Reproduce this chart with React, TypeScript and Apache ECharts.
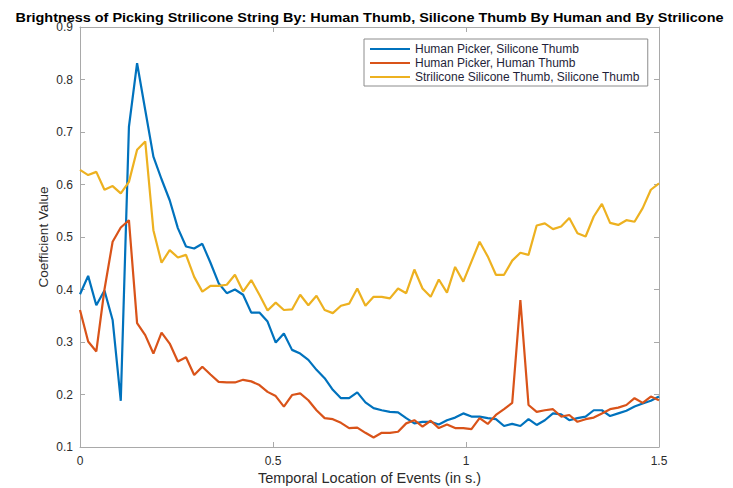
import React, { useEffect, useRef } from "react";
import * as echarts from "echarts";

// Sampling grid: 72 frames spread evenly over 0 – 1.5 s
const FRAME_COUNT = 72;
const DURATION = 1.5;
const times = Array.from({ length: FRAME_COUNT }, (_, i) => (i * DURATION) / (FRAME_COUNT - 1));

const seriesNames = [
  "Human Picker, Silicone Thumb",
  "Human Picker, Human Thumb",
  "Strilicone Silicone Thumb, Silicone Thumb",
];

const humanPickerSiliconeThumb = [
  0.391, 0.426, 0.37, 0.398, 0.342, 0.188, 0.71, 0.831, 0.742, 0.653,
  0.61, 0.57, 0.517, 0.482, 0.478, 0.487, 0.451, 0.412, 0.393, 0.4,
  0.39, 0.356, 0.356, 0.339, 0.299, 0.316, 0.285, 0.278, 0.266, 0.247,
  0.231, 0.209, 0.193, 0.193, 0.204, 0.185, 0.174, 0.17, 0.167, 0.166,
  0.155, 0.145, 0.148, 0.148, 0.143, 0.151, 0.156, 0.164, 0.158, 0.158,
  0.155, 0.153, 0.14, 0.144, 0.14, 0.153, 0.142, 0.151, 0.164, 0.162,
  0.151, 0.155, 0.158, 0.17, 0.17, 0.159, 0.164, 0.169, 0.177, 0.183,
  0.188, 0.196,
];

const humanPickerHumanThumb = [
  0.361, 0.301, 0.282, 0.4, 0.491, 0.518, 0.532, 0.336, 0.313, 0.278,
  0.318, 0.297, 0.263, 0.271, 0.237, 0.253, 0.238, 0.224, 0.223, 0.223,
  0.228, 0.225, 0.218, 0.205, 0.197, 0.177, 0.199, 0.202, 0.189, 0.17,
  0.155, 0.153, 0.146, 0.136, 0.137, 0.127, 0.118, 0.127, 0.127, 0.129,
  0.145, 0.151, 0.139, 0.15, 0.136, 0.143, 0.136, 0.136, 0.134, 0.155,
  0.144, 0.161, 0.172, 0.184, 0.38, 0.18, 0.167, 0.17, 0.172, 0.158,
  0.161, 0.148, 0.153, 0.156, 0.164, 0.172, 0.175, 0.18, 0.193, 0.184,
  0.196, 0.189,
];

const striliconeSiliconeThumb = [
  0.628, 0.618, 0.624, 0.59, 0.597, 0.583, 0.605, 0.666, 0.682, 0.513,
  0.451, 0.475, 0.461, 0.466, 0.424, 0.396, 0.407, 0.407, 0.409, 0.428,
  0.396, 0.418, 0.39, 0.36, 0.375, 0.361, 0.362, 0.39, 0.37, 0.388,
  0.361, 0.355, 0.369, 0.373, 0.402, 0.369, 0.386, 0.386, 0.383, 0.402,
  0.393, 0.438, 0.402, 0.386, 0.419, 0.394, 0.443, 0.415, 0.453, 0.491,
  0.463, 0.428, 0.428, 0.455, 0.47, 0.466, 0.522, 0.526, 0.515, 0.52,
  0.536, 0.507, 0.501, 0.539, 0.563, 0.527, 0.523, 0.532, 0.529, 0.555,
  0.59, 0.602,
];

const seriesValues = [humanPickerSiliconeThumb, humanPickerHumanThumb, striliconeSiliconeThumb];
const seriesColors = ["#0072BD", "#D95319", "#EDB120"];

const xTicks = { min: 0, max: 1.5, interval: 0.5 };
const yTicks = { min: 0.1, max: 0.9, interval: 0.1 };

const titleText =
  "Brightness of Picking Strilicone String By: Human Thumb, Silicone Thumb By Human and By Strilicone";
const xName = "Temporal Location of Events (in s.)";
const yName = "Coefficient Value";

const FONT = "'Liberation Sans', Arial, Helvetica, sans-serif";
const AXIS_GRAY = "#a9a9a9";
const TEXT_DARK = "#2b2b2b";

export default function App() {
  const ref = useRef<HTMLDivElement>(null);

  useEffect(() => {
    if (!ref.current) return;
    const chart = echarts.init(ref.current, undefined, { renderer: "svg" });

    const boxAxis = (position: string) => ({
      position,
      axisLine: { show: true, onZero: false, lineStyle: { color: AXIS_GRAY, width: 1 } },
      axisTick: { show: true, inside: true, length: 5, lineStyle: { color: AXIS_GRAY } },
      splitLine: { show: false },
    });

    chart.setOption({
      animation: false,
      backgroundColor: "#ffffff",
      textStyle: { fontFamily: FONT },
      grid: { left: 80, right: 74, top: 27, bottom: 41, containLabel: false },
      xAxis: [
        {
          type: "value",
          ...xTicks,
          ...boxAxis("bottom"),
          axisLabel: {
            color: TEXT_DARK,
            fontSize: 12,
            fontFamily: FONT,
            margin: 8,
            formatter: (v: number) => String(+v.toFixed(1)),
          },
        },
        {
          type: "value",
          ...xTicks,
          ...boxAxis("top"),
          axisLabel: { show: false },
        },
      ],
      yAxis: [
        {
          type: "value",
          ...yTicks,
          ...boxAxis("left"),
          axisLabel: {
            color: TEXT_DARK,
            fontSize: 12,
            fontFamily: FONT,
            margin: 7,
            formatter: (v: number) => v.toFixed(1),
          },
        },
        {
          type: "value",
          ...yTicks,
          ...boxAxis("right"),
          axisLabel: { show: false },
        },
      ],
      legend: {
        orient: "vertical",
        left: 364,
        top: 39,
        padding: [3, 8, 2, 6],
        itemGap: 0,
        itemWidth: 40,
        itemHeight: 2,
        icon: "rect",
        backgroundColor: "#ffffff",
        borderColor: "#8c8c8c",
        borderWidth: 1,
        borderRadius: 0,
        textStyle: { color: "#1f1f3a", fontSize: 12, fontFamily: FONT, lineHeight: 14 },
        data: seriesNames,
      },
      series: seriesNames.map((name, k) => ({
        name,
        type: "line",
        xAxisIndex: 0,
        yAxisIndex: 0,
        showSymbol: false,
        symbol: "none",
        color: seriesColors[k],
        lineStyle: { width: 2.2, color: seriesColors[k] },
        data: times.map((t, i) => [t, seriesValues[k][i]]),
      })),
      graphic: [
        {
          type: "text",
          x: 369.5,
          y: 18,
          scaleX: 1.11,
          style: {
            text: titleText,
            fontSize: 13,
            fontWeight: "bold",
            fontFamily: FONT,
            fill: "#000000",
            align: "center",
            verticalAlign: "middle",
          },
        },
        {
          type: "text",
          x: 369.5,
          y: 478,
          style: {
            text: xName,
            fontSize: 14.5,
            fontFamily: FONT,
            fill: TEXT_DARK,
            align: "center",
            verticalAlign: "middle",
          },
        },
        {
          type: "text",
          x: 43,
          y: 237,
          rotation: Math.PI / 2,
          style: {
            text: yName,
            fontSize: 13.5,
            fontFamily: FONT,
            fill: TEXT_DARK,
            align: "center",
            verticalAlign: "middle",
          },
        },
      ],
    });

    return () => chart.dispose();
  }, []);

  return (
    <div
      ref={ref}
      style={{ position: "absolute", left: 0, top: 0, width: 733, height: 488 }}
    />
  );
}
